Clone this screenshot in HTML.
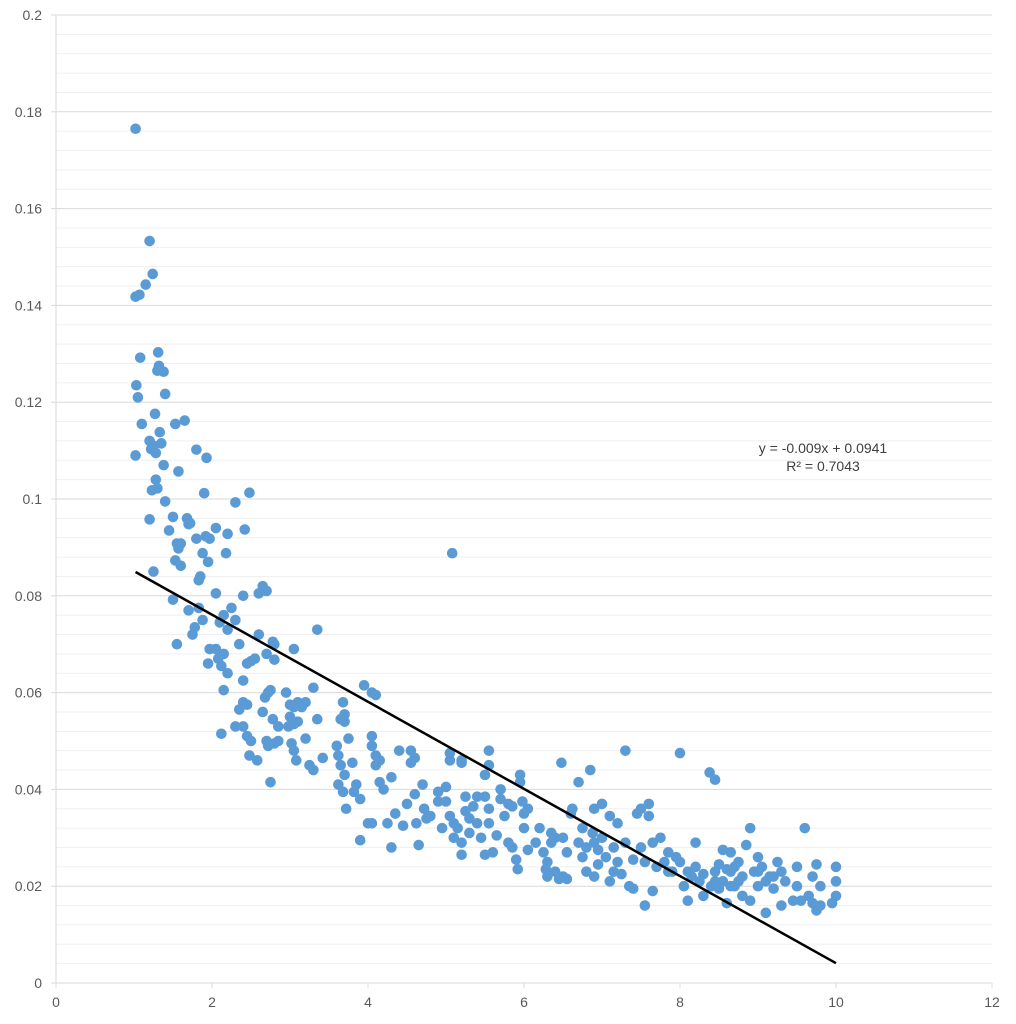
<!DOCTYPE html>
<html><head><meta charset="utf-8"><style>
html,body{margin:0;padding:0;background:#fff;}
svg{display:block;font-family:"Liberation Sans",sans-serif;}
</style></head><body>
<svg id="chart" width="1016" height="1024" viewBox="0 0 1016 1024"></svg>
<script>
const xTicks=[0,2,4,6,8,10,12];
const yTicks=[0,0.02,0.04,0.06,0.08,0.1,0.12,0.14,0.16,0.18,0.2];
const yTickLabels=["0","0.02","0.04","0.06","0.08","0.1","0.12","0.14","0.16","0.18","0.2"];
const slope=-0.009, intercept=0.0941, trendX=[1.02,10];
const eqText="y = -0.009x + 0.0941", r2Text="R² = 0.7043";
const xs=[1.02,1.2,1.24,1.15,1.02,1.07,1.08,1.31,1.32,1.3,1.38,1.03,1.05,1.4,1.27,1.1,1.53,1.65,1.33,1.2,1.25,1.35,1.22,1.28,1.02,1.38,1.57,1.28,1.3,1.23,1.4,1.2,1.5,1.55,1.6,1.57,1.45,1.53,1.6,1.25,1.5,1.55,1.68,1.7,1.72,1.8,1.9,1.93,1.8,1.88,1.92,1.95,1.97,2.05,2.2,2.18,2.3,2.42,2.48,1.7,1.75,1.78,1.83,1.85,1.88,1.83,1.95,1.97,2.05,2.08,2.05,2.1,2.15,2.2,2.25,2.3,2.15,2.2,2.12,2.15,2.35,2.4,2.45,2.5,2.55,2.4,2.35,2.4,2.45,2.3,2.12,2.4,2.45,2.5,2.48,2.58,2.6,2.65,2.7,2.6,2.78,2.8,2.8,2.7,2.72,2.68,2.65,2.75,2.78,2.85,2.7,2.72,2.8,2.85,2.75,2.95,3.0,3.05,3.05,3.1,3.0,2.98,3.05,3.1,3.02,3.05,3.08,3.15,3.2,3.2,3.25,3.3,3.3,3.35,3.35,3.42,3.6,3.62,3.65,3.7,3.7,3.68,3.65,3.7,3.62,3.68,3.72,3.75,3.8,3.82,3.85,3.9,3.9,3.95,4.05,4.1,4.05,4.05,4.1,4.15,4.1,4.0,4.05,4.15,4.2,4.25,4.3,4.35,4.3,4.4,4.45,4.5,4.55,4.55,4.6,4.6,4.62,4.65,4.7,4.72,4.75,4.8,4.9,4.9,4.95,5.0,5.0,5.05,5.05,5.08,5.05,5.1,5.1,5.15,5.2,5.2,5.2,5.2,5.25,5.25,5.3,5.3,5.35,5.4,5.4,5.45,5.5,5.5,5.55,5.55,5.55,5.55,5.5,5.6,5.65,5.7,5.7,5.75,5.8,5.85,5.8,5.85,5.9,5.92,5.95,5.95,5.98,6.0,6.05,6.05,6.2,6.25,6.28,6.3,6.35,6.35,6.4,6.45,6.48,6.5,6.55,6.5,6.6,6.62,6.7,6.75,6.7,6.75,6.8,6.85,6.9,6.88,6.9,6.95,6.95,7.0,7.0,7.05,7.1,7.1,7.15,7.2,7.2,7.25,7.3,7.3,7.35,7.4,7.45,7.5,7.5,7.55,7.55,7.6,7.6,7.65,7.65,7.7,7.75,7.8,7.85,7.9,7.95,8.0,8.0,8.05,8.1,8.1,8.15,8.2,8.25,8.3,8.3,8.38,8.45,8.4,8.45,8.5,8.55,8.55,8.6,8.65,8.65,8.7,8.75,8.8,8.85,8.9,8.9,8.95,9.0,9.0,9.05,9.1,9.1,9.15,9.2,9.25,9.3,9.3,9.35,9.45,9.5,9.5,9.55,9.6,9.65,9.7,9.7,9.75,9.75,9.8,9.8,10.0,10.0,10.0,9.95,6.0,6.15,6.3,6.4,6.55,6.8,6.9,7.15,7.4,7.85,8.2,8.5,8.6,8.7,8.8,9.2,9.0,8.45,8.65,8.75];
const ys=[0.1765,0.1533,0.1465,0.1443,0.1418,0.1422,0.1292,0.1303,0.1275,0.1265,0.1263,0.1235,0.121,0.1217,0.1176,0.1155,0.1155,0.1162,0.1138,0.112,0.111,0.1115,0.1103,0.1095,0.109,0.107,0.1057,0.104,0.1022,0.1018,0.0995,0.0958,0.0963,0.0908,0.0908,0.0898,0.0935,0.0873,0.0862,0.085,0.0792,0.07,0.096,0.0948,0.095,0.1102,0.1012,0.1085,0.0918,0.0888,0.0923,0.087,0.0918,0.094,0.0928,0.0888,0.0993,0.0937,0.1013,0.077,0.072,0.0735,0.0832,0.084,0.075,0.0775,0.066,0.069,0.069,0.067,0.0805,0.0745,0.076,0.073,0.0775,0.075,0.068,0.064,0.0655,0.0605,0.07,0.08,0.066,0.0665,0.067,0.0625,0.0565,0.058,0.0575,0.053,0.0515,0.053,0.051,0.05,0.047,0.046,0.072,0.082,0.081,0.0805,0.0705,0.07,0.0668,0.068,0.06,0.059,0.056,0.0605,0.0545,0.053,0.05,0.049,0.0495,0.05,0.0415,0.06,0.0575,0.057,0.069,0.058,0.055,0.053,0.0535,0.054,0.0495,0.048,0.046,0.057,0.058,0.0505,0.045,0.044,0.061,0.073,0.0545,0.0465,0.049,0.047,0.0545,0.0555,0.054,0.058,0.045,0.043,0.041,0.0395,0.036,0.0505,0.0455,0.0395,0.041,0.038,0.0295,0.0615,0.06,0.0595,0.051,0.049,0.047,0.046,0.045,0.033,0.033,0.0415,0.04,0.033,0.0425,0.035,0.028,0.048,0.0325,0.037,0.048,0.0455,0.0465,0.039,0.033,0.0285,0.041,0.036,0.034,0.0345,0.0375,0.0395,0.032,0.0405,0.0375,0.0475,0.046,0.0888,0.0345,0.033,0.03,0.032,0.029,0.0265,0.0455,0.046,0.0385,0.0355,0.034,0.031,0.0365,0.0385,0.033,0.03,0.043,0.0385,0.048,0.045,0.036,0.033,0.0265,0.027,0.0305,0.04,0.038,0.0345,0.037,0.0365,0.029,0.028,0.0255,0.0235,0.043,0.0415,0.0375,0.035,0.036,0.0275,0.032,0.027,0.0235,0.022,0.029,0.031,0.03,0.0215,0.0455,0.03,0.027,0.022,0.035,0.036,0.0415,0.032,0.029,0.026,0.023,0.044,0.036,0.031,0.029,0.0275,0.0245,0.037,0.03,0.026,0.0345,0.021,0.028,0.033,0.025,0.0225,0.048,0.029,0.02,0.0255,0.035,0.036,0.028,0.025,0.016,0.037,0.0345,0.029,0.019,0.024,0.03,0.025,0.027,0.023,0.026,0.0475,0.025,0.02,0.023,0.017,0.022,0.029,0.021,0.0225,0.018,0.0435,0.042,0.02,0.023,0.0245,0.0275,0.021,0.0165,0.027,0.023,0.02,0.025,0.022,0.0285,0.032,0.017,0.023,0.026,0.02,0.024,0.0145,0.021,0.022,0.0195,0.025,0.023,0.016,0.021,0.017,0.024,0.02,0.017,0.032,0.018,0.022,0.0165,0.0245,0.015,0.02,0.016,0.024,0.021,0.018,0.0165,0.032,0.029,0.025,0.023,0.0215,0.028,0.022,0.023,0.0195,0.023,0.024,0.0195,0.0235,0.024,0.018,0.022,0.023,0.021,0.02,0.021];

const NS="http://www.w3.org/2000/svg";
const svg=document.getElementById('chart');
const X0=56,X1=992,Y0=983,Y1=15;
const sx=v=>X0+(v-0)/(12-0)*(X1-X0);
const sy=v=>Y0-(v-0)/(0.2-0)*(Y0-Y1);
function mk(tag,attrs,parent){const e=document.createElementNS(NS,tag);for(const k in attrs)e.setAttribute(k,attrs[k]);(parent||svg).appendChild(e);return e;}

const grid=mk('g',{});


for(let v=0.004;v<0.2001;v+=0.004){
  const major=Math.abs(v/0.02-Math.round(v/0.02))<1e-6;
  const l=mk('line',{x1:X0,x2:X1,y1:sy(v),y2:sy(v),stroke:major?'#d9d9d9':'#efefef','stroke-width':1},grid);
  
  
}
const yax=mk('line',{x1:X0,x2:X0,y1:Y1,y2:Y0,stroke:'#d9d9d9','stroke-width':1});


const xax=mk('line',{x1:X0,x2:X1,y1:Y0,y2:Y0,stroke:'#d9d9d9','stroke-width':1});



yTicks.forEach((v,i)=>{
  const tk=mk('line',{x1:X0-5,x2:X0,y1:sy(v),y2:sy(v),stroke:'#d9d9d9'});
  
  
  const t=mk('text',{x:X0-14,y:sy(v)+5,'text-anchor':'end','font-size':14,fill:'#595959'});
  t.textContent=yTickLabels[i];
  
  
});
xTicks.forEach(v=>{
  const tk=mk('line',{x1:sx(v),x2:sx(v),y1:Y0,y2:Y0+5,stroke:'#d9d9d9'});
  
  
  const t=mk('text',{x:sx(v),y:Y0+24,'text-anchor':'middle','font-size':14,fill:'#595959'});
  t.textContent=String(v);
  
  
});

const pts=mk('g',{});


for(let i=0;i<xs.length;i++){
  const c=mk('circle',{cx:sx(xs[i]),cy:sy(ys[i]),r:5.3,fill:'#5b9bd5'},pts);
  
  
}
const tl=mk('line',{x1:sx(trendX[0]),y1:sy(slope*trendX[0]+intercept),x2:sx(trendX[1]),y2:sy(slope*trendX[1]+intercept),stroke:'#000','stroke-width':2.5});



const eq=mk('text',{x:823,y:453,'text-anchor':'middle','font-size':14,fill:'#404040'});
eq.textContent=eqText;


const r2=mk('text',{x:823,y:471,'text-anchor':'middle','font-size':14,fill:'#404040'});
r2.textContent=r2Text;


</script>
</body></html>
